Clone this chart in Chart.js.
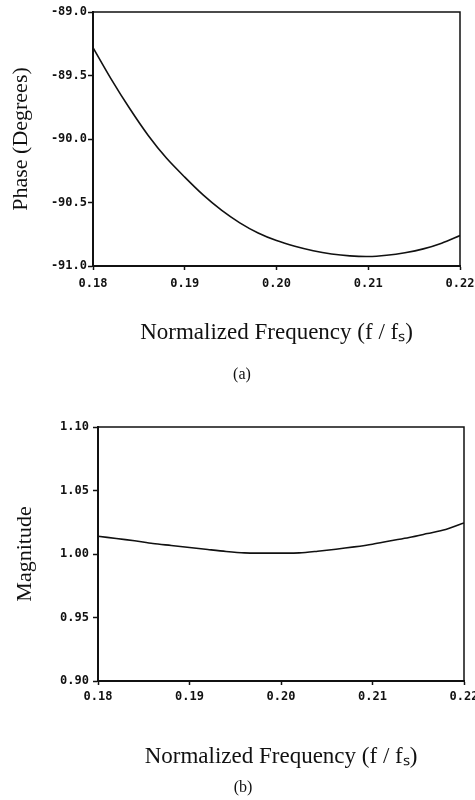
<!DOCTYPE html>
<html lang="en">
  <head>
    <meta charset="UTF-8" />
    <title>Phase and magnitude</title>
    <style>
      body {
        margin: 0;
        background: #ffffff;
      }
      .panel {
        position: absolute;
        left: 0;
      }
    </style>
  </head>
  <body>
    <canvas class="panel" id="phaseChart" width="475" height="400" style="top: 0px"></canvas>
    <canvas class="panel" id="magChart" width="475" height="400" style="top: 400px"></canvas>

    <script src="https://cdn.jsdelivr.net/npm/chart.js"></script>
    <script>
      // normalized frequency f / fs
      const freqs = [
        0.18, 0.182, 0.184, 0.186, 0.188, 0.19, 0.192, 0.194, 0.196, 0.198, 0.2,
        0.202, 0.204, 0.206, 0.208, 0.21, 0.212, 0.214, 0.216, 0.218, 0.22,
      ];
      // (a) phase in degrees
      const phase = [
        -89.28, -89.53, -89.76, -89.97, -90.15, -90.3, -90.44, -90.56, -90.66,
        -90.74, -90.8, -90.845, -90.88, -90.905, -90.92, -90.925, -90.915,
        -90.895, -90.865, -90.82, -90.76,
      ];
      // (b) magnitude
      const magnitude = [
        1.014, 1.0122, 1.0104, 1.0083, 1.0067, 1.0051, 1.0035, 1.002, 1.0009,
        1.0007, 1.0007, 1.0009, 1.0022, 1.0038, 1.0056, 1.0077, 1.0104, 1.013,
        1.0161, 1.0193, 1.0245,
      ];
      const xTicks = [0.18, 0.19, 0.2, 0.21, 0.22];
      const phaseTicks = [-89.0, -89.5, -90.0, -90.5, -91.0];
      const magTicks = [1.1, 1.05, 1.0, 0.95, 0.9];

      const serif = "'Liberation Serif', 'Times New Roman', serif";
      const mono = "'DejaVu Sans Mono', monospace";

      // box around the plot area (top and right sides) + the (a)/(b) caption
      const frame = {
        id: "frame",
        afterDraw(chart, args, opts) {
          const a = chart.chartArea;
          const ctx = chart.ctx;
          ctx.save();
          ctx.strokeStyle = "#111";
          ctx.lineWidth = 1.5;
          ctx.beginPath();
          ctx.moveTo(a.left, a.top);
          ctx.lineTo(a.right, a.top);
          ctx.lineTo(a.right, a.bottom);
          ctx.stroke();
          ctx.fillStyle = "#111";
          ctx.font = "16px " + serif;
          ctx.textAlign = "center";
          ctx.textBaseline = "middle";
          ctx.fillText(opts.text, opts.x, opts.y);
          ctx.restore();
        },
      };

      const makePanel = (id, s) => {
        return new Chart(document.getElementById(id), {
          type: "line",
          data: {
            datasets: [
              {
                data: freqs.map((f, i) => ({ x: f, y: s.values[i] })),
                borderColor: "#111",
                borderWidth: 1.6,
                pointRadius: 0,
                tension: 0.3,
              },
            ],
          },
          options: {
            responsive: false,
            animation: false,
            layout: { padding: s.padding },
            plugins: {
              legend: { display: false },
              tooltip: { enabled: false },
              frame: s.caption,
            },
            scales: {
              x: {
                type: "linear",
                min: 0.18,
                max: 0.22,
                afterBuildTicks: (scale) => {
                  scale.ticks = xTicks.map((v) => ({ value: v }));
                },
                afterFit: (scale) => {
                  scale.height = s.xHeight;
                  scale.paddingLeft = 0;
                  scale.paddingRight = 0;
                },
                border: { color: "#111", width: 2 },
                grid: {
                  drawOnChartArea: false,
                  tickLength: 4,
                  tickColor: "#111",
                  tickWidth: 1.5,
                },
                ticks: {
                  padding: s.xTickPad,
                  color: "#111",
                  maxRotation: 0,
                  font: { family: mono, size: 12, weight: "bold" },
                  callback: (v) => v.toFixed(2),
                },
                title: {
                  display: true,
                  text: "Normalized Frequency (f / fₛ)",
                  color: "#111",
                  font: { family: serif, size: 23 },
                  padding: 0,
                },
              },
              y: {
                min: s.yTicks[s.yTicks.length - 1],
                max: s.yTicks[0],
                afterBuildTicks: (scale) => {
                  scale.ticks = s.yTicks.map((v) => ({ value: v }));
                },
                afterFit: (scale) => {
                  scale.width = s.yWidth;
                },
                border: { color: "#111", width: 2 },
                grid: {
                  drawOnChartArea: false,
                  tickLength: 5,
                  tickColor: "#111",
                  tickWidth: 1.5,
                },
                ticks: {
                  padding: s.yTickPad,
                  color: "#111",
                  font: { family: mono, size: 12, weight: "bold" },
                  callback: (v) => v.toFixed(s.digits),
                },
                title: {
                  display: true,
                  text: s.yTitle,
                  color: "#111",
                  font: { family: serif, size: 22 },
                  padding: { top: s.yTitlePad, bottom: 0 },
                },
              },
            },
          },
          plugins: [frame],
        });
      };

      makePanel("phaseChart", {
        values: phase,
        yTicks: phaseTicks,
        digits: 1,
        yTitle: "Phase (Degrees)",
        yTitlePad: 8,
        yWidth: 93,
        yTickPad: 1,
        xHeight: 80.6,
        xTickPad: 7,
        padding: { top: 12, right: 15, left: 0, bottom: 53.4 },
        caption: { text: "(a)", x: 242, y: 375 },
      });

      makePanel("magChart", {
        values: magnitude,
        yTicks: magTicks,
        digits: 2,
        yTitle: "Magnitude",
        yTitlePad: 12,
        yWidth: 98,
        yTickPad: 4,
        xHeight: 89.8,
        xTickPad: 5,
        padding: { top: 27, right: 11, left: 0, bottom: 29.2 },
        caption: { text: "(b)", x: 243, y: 388 },
      });
    </script>
  </body>
</html>
